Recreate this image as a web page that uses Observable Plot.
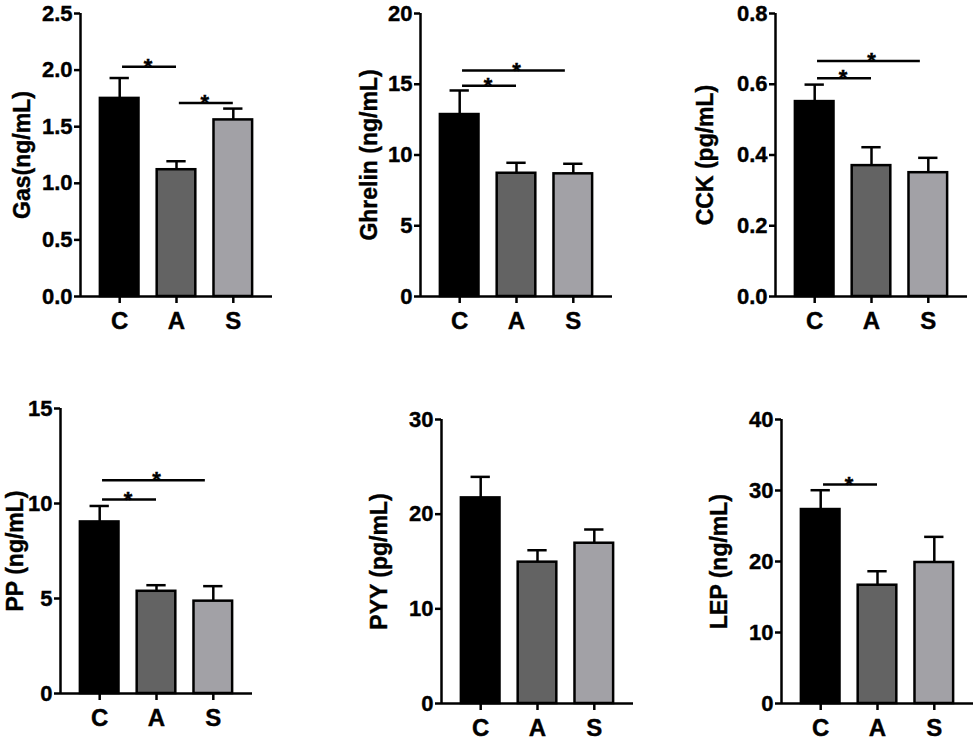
<!DOCTYPE html>
<html>
<head>
<meta charset="utf-8">
<script src="https://cdn.jsdelivr.net/npm/d3@7"></script>
<script src="https://cdn.jsdelivr.net/npm/@observablehq/plot@0.6"></script>
<style>
  html, body { margin: 0; padding: 0; background: #fff; }
  #root { position: relative; width: 976px; height: 741px; overflow: hidden; background: #fff; }
  .panel { position: absolute; }
  .panel svg text { stroke: #000; stroke-width: 0.4px; fill: #000; }
</style>
</head>
<body>
<div id="root"></div>
<script>
// ---- data ----
const groups = ["C", "A", "S"];
const groupColors = ["#000000", "#636363", "#a2a1a6"];

const gasMean = [1.75, 1.12, 1.56];
const gasSem = [0.18, 0.075, 0.10];
const gasTicks = [0, 0.5, 1.0, 1.5, 2.0, 2.5];
const gasSig = [{from: "C", to: "A", y: 2.03}, {from: "A", to: "S", y: 1.71}];

const ghrelinMean = [12.86, 8.71, 8.67];
const ghrelinSem = [1.70, 0.74, 0.71];
const ghrelinTicks = [0, 5, 10, 15, 20];
const ghrelinSig = [{from: "C", to: "A", y: 14.89}, {from: "C", to: "S", y: 15.97}];

const cckMean = [0.551, 0.370, 0.350];
const cckSem = [0.048, 0.052, 0.042];
const cckTicks = [0, 0.2, 0.4, 0.6, 0.8];
const cckSig = [{from: "C", to: "A", y: 0.617}, {from: "C", to: "S", y: 0.666}];

const ppMean = [9.03, 5.38, 4.86];
const ppSem = [0.84, 0.32, 0.79];
const ppTicks = [0, 5, 10, 15];
const ppSig = [{from: "C", to: "A", y: 10.21}, {from: "C", to: "S", y: 11.23}];

const pyyMean = [21.72, 14.93, 16.93];
const pyySem = [2.22, 1.26, 1.45];
const pyyTicks = [0, 10, 20, 30];
const pyySig = [];

const lepMean = [27.32, 16.66, 19.86];
const lepSem = [2.72, 1.97, 3.61];
const lepTicks = [0, 10, 20, 30, 40];
const lepSig = [{from: "C", to: "A", y: 30.85}];

// ---- panels ----
const panels = [
  {label: "Gas(ng/mL)", mean: gasMean, sem: gasSem, ticks: gasTicks, sig: gasSig, fmt: d3.format(".1f"),
   left: 0, top: 0, ml: 80, mt: 13, ih: 283, mb: 45, labelDx: -58},
  {label: "Ghrelin (ng/mL)", mean: ghrelinMean, sem: ghrelinSem, ticks: ghrelinTicks, sig: ghrelinSig, fmt: d3.format("d"),
   left: 330, top: 0, ml: 90, mt: 13, ih: 283, mb: 45, labelDx: -51},
  {label: "CCK (pg/mL)", mean: cckMean, sem: cckSem, ticks: cckTicks, sig: cckSig, fmt: d3.format(".1f"),
   left: 650, top: 0, ml: 125, mt: 13, ih: 283, mb: 45, labelDx: -70},
  {label: "PP (ng/mL)", mean: ppMean, sem: ppSem, ticks: ppTicks, sig: ppSig, fmt: d3.format("d"),
   left: 0, top: 390, ml: 60, mt: 18, ih: 285, mb: 45, labelDx: -45},
  {label: "PYY (pg/mL)", mean: pyyMean, sem: pyySem, ticks: pyyTicks, sig: pyySig, fmt: d3.format("d"),
   left: 330, top: 390, ml: 111, mt: 29, ih: 284, mb: 38, labelDx: -62},
  {label: "LEP (ng/mL)", mean: lepMean, sem: lepSem, ticks: lepTicks, sig: lepSig, fmt: d3.format("d"),
   left: 650, top: 390, ml: 131, mt: 29, ih: 284, mb: 38, labelDx: -62}
];

const FONT = "Liberation Sans, Arial, Helvetica, sans-serif";
const XMIN = -0.69, XMAX = 2.69;
const INNER_W = 192;
const BAR_HALF = 0.34, CAP_HALF = 0.17;
const SW = 2.5;

const root = document.getElementById("root");

for (const p of panels) {
  const rows = groups.map((g, i) => ({g, i, mean: p.mean[i], top: p.mean[i] + p.sem[i], color: groupColors[i]}));
  const ymax = p.ticks[p.ticks.length - 1];
  const idx = g => groups.indexOf(g);
  const sigRows = p.sig.map(s => {
    const a = idx(s.from), b = idx(s.to);
    return {x1: a + 0.05, x2: b - (b - a > 1 ? 0.14 : 0), xm: (a + b) / 2, y: s.y};
  });

  const chart = Plot.plot({
    width: p.ml + INNER_W + 3,
    height: p.mt + p.ih + p.mb,
    marginLeft: p.ml,
    marginRight: 3,
    marginTop: p.mt,
    marginBottom: p.mb,
    style: {fontFamily: FONT, fontWeight: "bold", fontSize: "22px", color: "#000", background: "transparent"},
    x: {type: "linear", domain: [XMIN, XMAX], axis: null},
    y: {domain: [0, ymax], axis: null},
    marks: [
      Plot.rectY(rows, {x1: d => d.i - BAR_HALF, x2: d => d.i + BAR_HALF, y1: 0, y2: "mean",
        fill: d => d.color, stroke: "#000", strokeWidth: SW}),
      Plot.ruleX(rows, {x: "i", y1: "mean", y2: "top", stroke: "#000", strokeWidth: SW}),
      Plot.ruleY(rows, {x1: d => d.i - CAP_HALF, x2: d => d.i + CAP_HALF, y: "top", stroke: "#000", strokeWidth: SW}),
      Plot.ruleY(sigRows, {x1: "x1", x2: "x2", y: "y", stroke: "#000", strokeWidth: SW}),
      Plot.text(sigRows, {x: "xm", y: "y", text: () => "*", fontSize: 22, fontWeight: "bold", fill: "#000"}),
      Plot.ruleY([0], {stroke: "#000", strokeWidth: SW}),
      Plot.ruleX([XMIN], {y1: 0, y2: ymax, stroke: "#000", strokeWidth: SW}),
      Plot.axisY({ticks: p.ticks, tickFormat: p.fmt, tickSize: 6, tickPadding: 2, strokeWidth: SW,
        fontSize: 22, fontWeight: "bold", label: null}),
      Plot.axisX({ticks: [0, 1, 2], tickFormat: i => groups[i], tickSize: 7, tickPadding: 8, strokeWidth: SW,
        fontSize: 24, fontWeight: "bold", label: null}),
      Plot.text([p.label], {frameAnchor: "left", textAnchor: "middle", rotate: -90, dx: p.labelDx, text: d => d,
        fontSize: 23, fontWeight: "bold", fill: "#000"})
    ]
  });
  const div = document.createElement("div");
  div.className = "panel";
  div.style.left = p.left + "px";
  div.style.top = p.top + "px";
  div.appendChild(chart);
  root.appendChild(div);
}
</script>
</body>
</html>
